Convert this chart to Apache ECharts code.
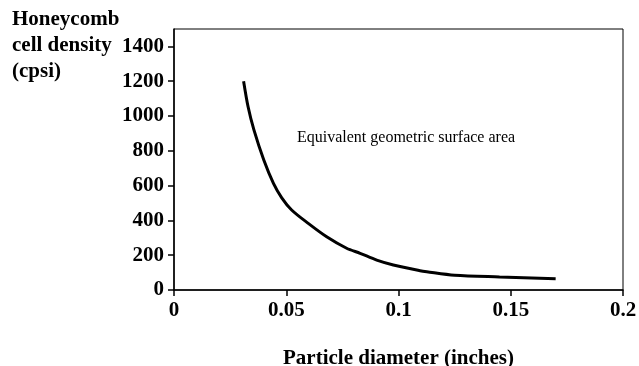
<!DOCTYPE html>
<html>
<head>
<meta charset="utf-8">
<script src="https://cdn.jsdelivr.net/npm/echarts@6/dist/echarts.min.js"></script>
<style>
  html, body { margin: 0; padding: 0; background: #fff; }
  #chart { width: 639px; height: 366px; }
</style>
</head>
<body>
<div id="chart"></div>
<script>
// particle diameter (inches) vs honeycomb cell density (cpsi)
const diameters = [0.031, 0.033, 0.0356, 0.04, 0.0443, 0.048, 0.0524, 0.0598, 0.068, 0.0769, 0.0829, 0.0903, 0.0977, 0.1096, 0.1126, 0.125, 0.145, 0.17];
const cellDensity = [1200, 1053, 920, 747, 613, 530, 460, 383, 306, 240, 211, 172, 144, 111, 105, 85, 75, 65];
const yTicks = [0, 200, 400, 600, 800, 1000, 1200, 1400];
const annotation = 'Equivalent geometric surface area';

const chart = echarts.init(document.getElementById('chart'));
const serif = '"Liberation Serif", "DejaVu Serif", serif';

const option = {
  animation: false,
  grid: {
    left: 174,
    right: 16,
    top: 29,
    bottom: 76,
    outerBoundsMode: 'none',
    containLabel: false,
    show: true,
    borderColor: '#000',
    borderWidth: 1
  },
  xAxis: {
    type: 'value',
    min: 0,
    max: 0.2,
    interval: 0.05,
    name: 'Particle diameter (inches)',
    nameLocation: 'middle',
    nameGap: 58,
    nameTextStyle: { fontFamily: serif, fontWeight: 'bold', fontSize: 21, color: '#000' },
    axisLine: { lineStyle: { color: '#000', width: 1.5 } },
    axisTick: { show: true, length: 6, lineStyle: { color: '#000', width: 1.5 } },
    axisLabel: {
      fontFamily: serif, fontWeight: 'bold', fontSize: 21, color: '#000', margin: 10,
      formatter: (v) => String(+v.toFixed(2))
    },
    splitLine: { show: false }
  },
  yAxis: {
    type: 'value',
    min: 0,
    max: 1500,
    interval: 100,
    axisLine: { show: true, lineStyle: { color: '#000', width: 1.5 } },
    axisTick: { show: true, length: 6, customValues: yTicks, lineStyle: { color: '#000', width: 1.5 } },
    axisLabel: {
      fontFamily: serif, fontWeight: 'bold', fontSize: 21, color: '#000', margin: 10,
      customValues: yTicks,
      formatter: (v) => String(v)
    },
    splitLine: { show: false }
  },
  graphic: [
    {
      type: 'text',
      left: 12,
      top: 7,
      style: {
        text: 'Honeycomb\ncell density\n(cpsi)',
        font: 'bold 21px ' + serif,
        lineHeight: 26,
        fill: '#000'
      }
    },
    {
      type: 'text',
      left: 297,
      top: 130,
      style: {
        text: annotation,
        font: '16px ' + serif,
        fill: '#000'
      }
    }
  ],
  series: [
    {
      type: 'line',
      data: diameters.map((d, i) => [d, cellDensity[i]]),
      smooth: 0.3,
      showSymbol: false,
      lineStyle: { color: '#000', width: 3 }
    }
  ]
};

chart.setOption(option);
</script>
</body>
</html>
